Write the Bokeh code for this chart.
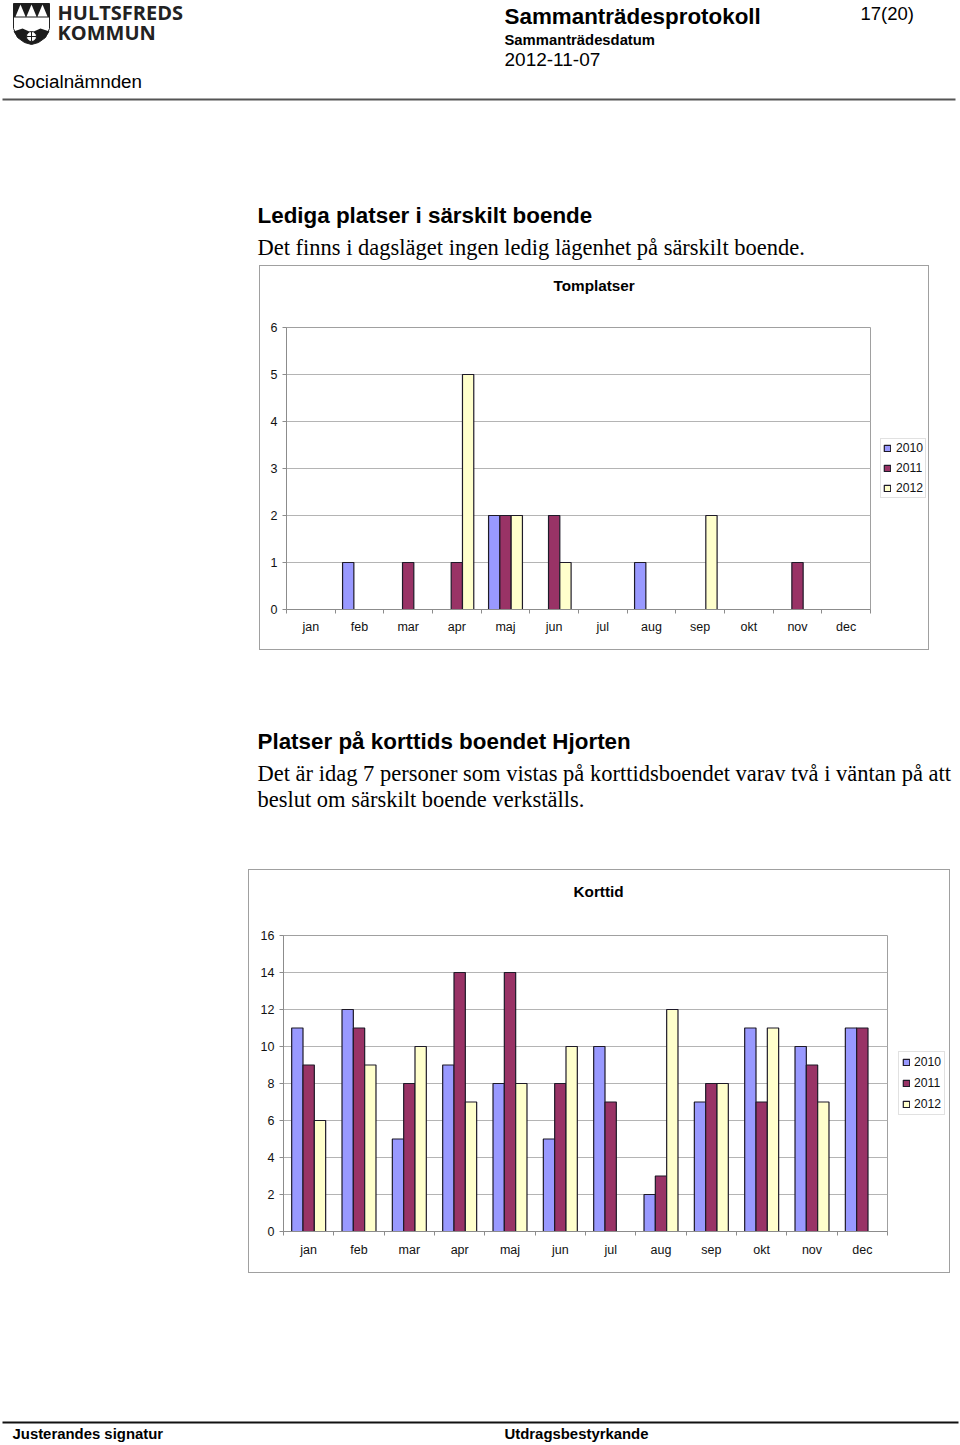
from bokeh.plotting import figure
from bokeh.layouts import column, row
from bokeh.models import (Range1d, FixedTicker, Legend, LegendItem, Title, Spacer)
from bokeh.core.properties import value
from bokeh.embed import file_html
from bokeh.resources import INLINE

months = ["jan", "feb", "mar", "apr", "maj", "jun", "jul", "aug", "sep", "okt", "nov", "dec"]
years = ["2010", "2011", "2012"]
colors = ["#9999ff", "#993366", "#ffffcc"]

tom_2010 = [None, 1, None, None, 2, None, None, 1, None, None, None, None]
tom_2011 = [None, None, 1, 1, 2, 2, None, None, None, None, 1, None]
tom_2012 = [None, None, None, 5, 2, 1, None, None, 2, None, None, None]
tom_ticks = [0, 1, 2, 3, 4, 5, 6]

kort_2010 = [11, 12, 5, 9, 8, 5, 10, 2, 7, 11, 10, 11]
kort_2011 = [9, 11, 8, 14, 14, 8, 7, 3, 8, 7, 9, 11]
kort_2012 = [6, 9, 10, 7, 8, 10, None, 12, 8, 11, 7, None]
kort_ticks = [0, 2, 4, 6, 8, 10, 12, 14, 16]

SANS = "Liberation Sans"
SERIF = "Liberation Serif"
GRID = "#b4b4b4"
AXIS = "#8c8c8c"
BOX = "#a0a0a0"


def page_fig(w, h, y0):
    p = figure(width=w, height=h, x_range=Range1d(0, w), y_range=Range1d(y0 + h, y0),
               x_axis_type=None, y_axis_type=None, output_backend="svg", toolbar_location=None,
               min_border=0, outline_line_color=None)
    p.grid.visible = False
    return p


def txt(p, x, y, s, size, bold=False, font=SANS, color="#000000", align="left"):
    p.text([x], [y], text=[s], text_font=value(font), text_font_size=f"{size}px",
           text_font_style="bold" if bold else "normal", text_color=color,
           text_align=align, text_baseline="middle")


def box_css(w, h):
    # the chart's outer frame, as four 1px lines painted behind a transparent canvas
    g = f"linear-gradient({BOX},{BOX})"
    return {"background": (f"{g} 0 0/{w}px 1px no-repeat, {g} 0 {h - 1}px/{w}px 1px no-repeat, "
                           f"{g} 0 0/1px {h}px no-repeat, {g} {w - 1}px 0/1px {h}px no-repeat")}


def chart(title, series, ticks, w, h, left, right, top, bottom, bar_w, t_off, gap_size,
          leg_margin, leg_space, leg_pad, leg_stand, x_stand):
    p = figure(width=w, height=h, frame_width=w - left - right, frame_height=h - top - bottom,
               x_range=Range1d(0, 12), y_range=Range1d(ticks[0], ticks[-1]),
               output_backend="svg", toolbar_location=None,
               min_border_left=left, min_border_right=right, min_border_top=top, min_border_bottom=bottom,
               outline_line_color=BOX, outline_line_width=1, border_fill_color=None, background_fill_color=None,
               styles=box_css(w, h))
    items = []
    for k, (vals, yr, c) in enumerate(zip(series, years, colors)):
        xs = [i + 0.5 + (k - 1) * bar_w for i, v in enumerate(vals) if v is not None]
        ys = [v for v in vals if v is not None]
        r = p.vbar(x=xs, top=ys, bottom=0, width=bar_w, fill_color=c, line_color="#1e1a28", line_width=1.2)
        items.append(LegendItem(label=yr, renderers=[r]))
    p.xgrid.visible = False
    p.ygrid.ticker = FixedTicker(ticks=ticks)
    p.ygrid.grid_line_color = GRID
    p.ygrid.grid_line_width = 1

    xa = p.xaxis[0]
    xa.ticker = FixedTicker(ticks=[i + 0.5 for i in range(12)], minor_ticks=list(range(13)))
    xa.major_label_overrides = {i + 0.5: m for i, m in enumerate(months)}
    xa.major_tick_out = 0
    xa.major_tick_in = 0
    xa.minor_tick_out = 4
    xa.minor_tick_in = 0
    xa.minor_tick_line_color = AXIS
    xa.axis_line_color = AXIS
    xa.major_label_standoff = x_stand
    xa.major_label_text_font = SANS
    xa.major_label_text_font_size = "12.5px"
    xa.major_label_text_color = "#111111"

    ya = p.yaxis[0]
    ya.ticker = FixedTicker(ticks=ticks)
    ya.major_tick_out = 4
    ya.major_tick_in = 0
    ya.minor_tick_line_color = None
    ya.major_tick_line_color = AXIS
    ya.axis_line_color = AXIS
    ya.major_label_standoff = 5
    ya.major_label_text_font = SANS
    ya.major_label_text_font_size = "12.5px"
    ya.major_label_text_color = "#111111"

    leg = Legend(items=items, location="center_left", orientation="vertical", margin=leg_margin,
                 padding=leg_pad, spacing=leg_space, label_standoff=leg_stand, glyph_width=8, glyph_height=8,
                 label_height=14, label_text_font=SANS, label_text_font_size="12.2px",
                 label_text_color="#111111", border_line_color="#c4c4c4", border_line_width=1,
                 background_fill_color="white", background_fill_alpha=1)
    p.add_layout(leg, "right")

    # an empty line between the chart's title and its plot area
    p.add_layout(Title(text=" ", text_font_size=f"{gap_size}px"), "above")
    p.add_layout(Title(text=title, align="left", offset=t_off,
                       text_font=SANS, text_font_size="15.3px", text_font_style="bold",
                       text_color="#000000"), "above")
    return p


# header
head = page_fig(960, 265, 0)
# shield of the logo
head.patch([13, 49, 49, 45, 38, 31, 24, 17, 13], [3, 3, 28, 37, 42, 44, 42, 37, 28], fill_color="white", line_color="#222222", line_width=1)
head.patch([13, 49, 49, 13], [3, 3, 17, 17], fill_color="#1c1c1c", line_color=None)
for cx in [20, 31, 42]:
    head.patch([cx - 5, cx, cx + 5], [16, 4, 16], fill_color="white", line_color=None)
head.patch([13, 22, 31, 40, 49, 45, 38, 31, 24, 17], [31, 28, 32, 28, 31, 37, 42, 44, 42, 37], fill_color="#1c1c1c", line_color=None)
head.scatter([31], [36], size=10, fill_color="white", line_color="#1c1c1c", marker="circle_cross")
txt(head, 57, 12, "HULTSFREDS", 20, True, "Open Sans", "#222222")
txt(head, 57, 32, "KOMMUN", 20, True, "Open Sans", "#222222")
txt(head, 12, 81, "Socialnämnden", 18.8)
txt(head, 504, 16, "Sammanträdesprotokoll", 22.4, True)
txt(head, 504, 39, "Sammanträdesdatum", 14.8, True)
txt(head, 504, 59, "2012-11-07", 19)
txt(head, 860, 13, "17(20)", 18.5)
head.line([2, 955], [99, 99], line_color="#555555", line_width=2)
txt(head, 257, 215, "Lediga platser i särskilt boende", 22.4, True)
txt(head, 257, 247, "Det finns i dagsläget ingen ledig lägenhet på särskilt boende.", 22.5, False, SERIF)

c1 = chart("Tomplatser", [tom_2010, tom_2011, tom_2012], tom_ticks, 670, 385, 27, 59, 62, 41,
           0.232, 267, 15, 10, 6, 2, 5, 6)

mid = page_fig(960, 219, 650)
txt(mid, 257, 741, "Platser på korttids boendet Hjorten", 22.4, True)
txt(mid, 257, 773, "Det är idag 7 personer som vistas på korttidsboendet varav två i väntan på att", 22.5, False, SERIF)
txt(mid, 257, 799, "beslut om särskilt boende verkställs.", 22.5, False, SERIF)

c2 = chart("Korttid", [kort_2010, kort_2011, kort_2012], kort_ticks, 702, 404, 35, 63, 66, 42,
           0.225, 290, 17, 11, 7, 3, 4, 7)

foot = page_fig(960, 172, 1273)
foot.line([2, 958], [1422, 1422], line_color="#111111", line_width=2)
txt(foot, 12, 1433, "Justerandes signatur", 14.9, True)
txt(foot, 504, 1433, "Utdragsbestyrkande", 14.9, True)

page = column(head,
              row(Spacer(width=259, height=385), c1),
              mid,
              row(Spacer(width=248, height=404), c2),
              foot,
              spacing=0, margin=0)

open("out.html", "w").write(file_html(page, INLINE))
